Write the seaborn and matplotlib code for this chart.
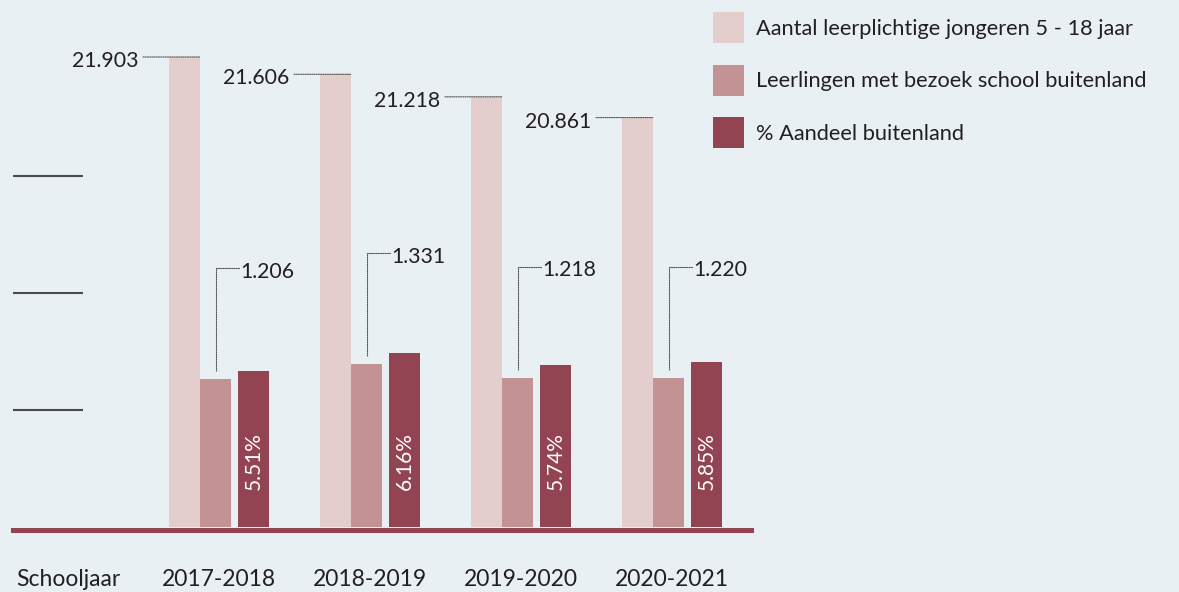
import numpy as np
import pandas as pd
import matplotlib
matplotlib.use("Agg")
import matplotlib.pyplot as plt
from matplotlib.transforms import offset_copy
import seaborn as sns

# ---------------- data ----------------
axis_title = "Schooljaar"
years = ["2017-2018", "2018-2019", "2019-2020", "2020-2021"]
series_names = ["Aantal leerplichtige jongeren 5 - 18 jaar",
                "Leerlingen met bezoek school buitenland",
                "% Aandeel buitenland"]
leerplichtig = [21903, 21606, 21218, 20861]
buitenland = [1206, 1331, 1218, 1220]
aandeel = [5.51, 6.16, 5.74, 5.85]

# ---------------- style ----------------
BG = "#e8f0f3"
C_PINK = "#e3cdcd"
C_MED = "#c39394"
C_DARK = "#934452"
TXT = "#231f20"
LEAD = "#555555"
FONT = "Lato"

sns.set_style("white")
plt.rcParams["font.family"] = [FONT, "DejaVu Sans"]

W, H = 1179, 592
fig = plt.figure(figsize=(W / 100, H / 100), dpi=100, facecolor=BG)

AX_L, AX_R, AX_B = 13, 751, 65          # pixels
ax = fig.add_axes([AX_L / W, AX_B / H, (AX_R - AX_L) / W, (H - AX_B) / H])
ax.set_facecolor("none")
ax1 = ax.twinx()
ax2 = ax.twinx()
ax3 = ax.twinx()

GROUP_PX = 151.0
CENTER0_PX = 219.0
BAR_W = 31 / GROUP_PX
idx = np.arange(len(years))
off_pink, off_med, off_dark = -34.5 / GROUP_PX, -3.5 / GROUP_PX, 34.5 / GROUP_PX

pos_pink = idx + off_pink
pos_med = idx + off_med
pos_dark = idx + off_dark

common = dict(native_scale=True, width=BAR_W, saturation=1, edgecolor="none",
              linewidth=0, errorbar=None)
sns.barplot(x=pos_pink, y=leerplichtig, color=C_PINK, ax=ax1, **common)
sns.barplot(x=pos_med, y=buitenland, color=C_MED, ax=ax2, **common)
sns.barplot(x=pos_dark, y=aandeel, color=C_DARK, ax=ax3, **common)

# scales (the infographic uses a separate scale per series)
ax1.set_ylim(13822, 22883)
ax2.set_ylim(0, 4304)
ax3.set_ylim(0, 18.67)
ax.set_ylim(0, 4.5)
ax.set_xlim((AX_L - CENTER0_PX) / GROUP_PX, (AX_R - CENTER0_PX) / GROUP_PX)

for a in (ax1, ax2, ax3):
    a.set_facecolor("none")
    for s in a.spines.values():
        s.set_visible(False)
    a.set_yticks([])
    a.set_ylabel("")
    a.set_xlabel("")
    a.tick_params(axis="x", which="both", bottom=False, labelbottom=False,
                  top=False, labeltop=False)

# base axis: baseline, left guide lines, tick labels
for s in ("top", "right", "left"):
    ax.spines[s].set_visible(False)
ax.spines["bottom"].set_color(C_DARK)
ax.spines["bottom"].set_linewidth(3.6)
ax.spines["bottom"].set_position(("outward", 1.8))
ax.set_yticks([])
for lvl in (1, 2, 3):
    ax.axhline(lvl, xmin=0, xmax=(83 - AX_L) / (AX_R - AX_L), color="#4a4a4a",
               lw=1.5, solid_capstyle="butt")
ax.set_xticks([-1] + list(idx))
ax.set_xticklabels([axis_title] + years, fontsize=16.5, color=TXT)
ax.tick_params(axis="x", length=0, pad=28.3)
ax.set_xlabel("")
ax.set_ylabel("")

dot = (0, (1, 1))

# pink labels with horizontal dotted leader
for x, v in zip(pos_pink, leerplichtig):
    tr = offset_copy(ax1.transData, fig=fig, x=15.5, y=0, units="dots")
    ax1.annotate("", xy=(x, v), xycoords=tr, xytext=(-57, 0),
                 textcoords="offset pixels",
                 arrowprops=dict(arrowstyle="-", shrinkA=0, shrinkB=0,
                                 color=LEAD, lw=0.8, linestyle=dot))
    ax1.annotate(f"{v / 1000:.3f}", xy=(x, v), xytext=(-46, -10),
                 textcoords="offset pixels", ha="right", va="baseline",
                 fontsize=15.3, color=TXT)

# medium labels with elbow dotted leader
for x, v in zip(pos_med, buitenland):
    tr = offset_copy(ax2.transData, fig=fig, x=0, y=8, units="dots")
    ax2.annotate("", xy=(x, v), xycoords=tr, xytext=(23, 103),
                 textcoords="offset pixels",
                 arrowprops=dict(arrowstyle="-", shrinkA=0, shrinkB=0,
                                 color=LEAD, lw=0.8, linestyle=dot,
                                 connectionstyle="angle,angleA=0,angleB=90,rad=0"))
    ax2.annotate(f"{v / 1000:.3f}", xy=(x, v), xytext=(25, 101.5),
                 textcoords="offset pixels", ha="left", va="baseline",
                 fontsize=15.3, color=TXT)

# percentage labels inside dark bars
for x, v in zip(pos_dark, aandeel):
    ax3.annotate(f"{v:.2f}%", xy=(x, 0), xytext=(0, 37),
                 textcoords="offset pixels", rotation=90, ha="center",
                 va="bottom", fontsize=15, color="white", annotation_clip=False)

# legend
LFS = 15.7
lpx = LFS * 100 / 72
hl = 31 / lpx
hh = (31 / lpx - 0.245) / 0.65
handles = [ax1.patches[0], ax2.patches[0], ax3.patches[0]]
fig.legend(handles=handles, labels=series_names, loc="upper left",
           bbox_to_anchor=(713 / W, 1 - 12 / H), frameon=False, borderpad=0,
           borderaxespad=0, handlelength=hl, handleheight=hh,
           handletextpad=12 / lpx, labelspacing=(52.7 - 31) / lpx, fontsize=LFS,
           labelcolor=TXT)

fig.savefig("out.png", dpi=100, facecolor=BG)
